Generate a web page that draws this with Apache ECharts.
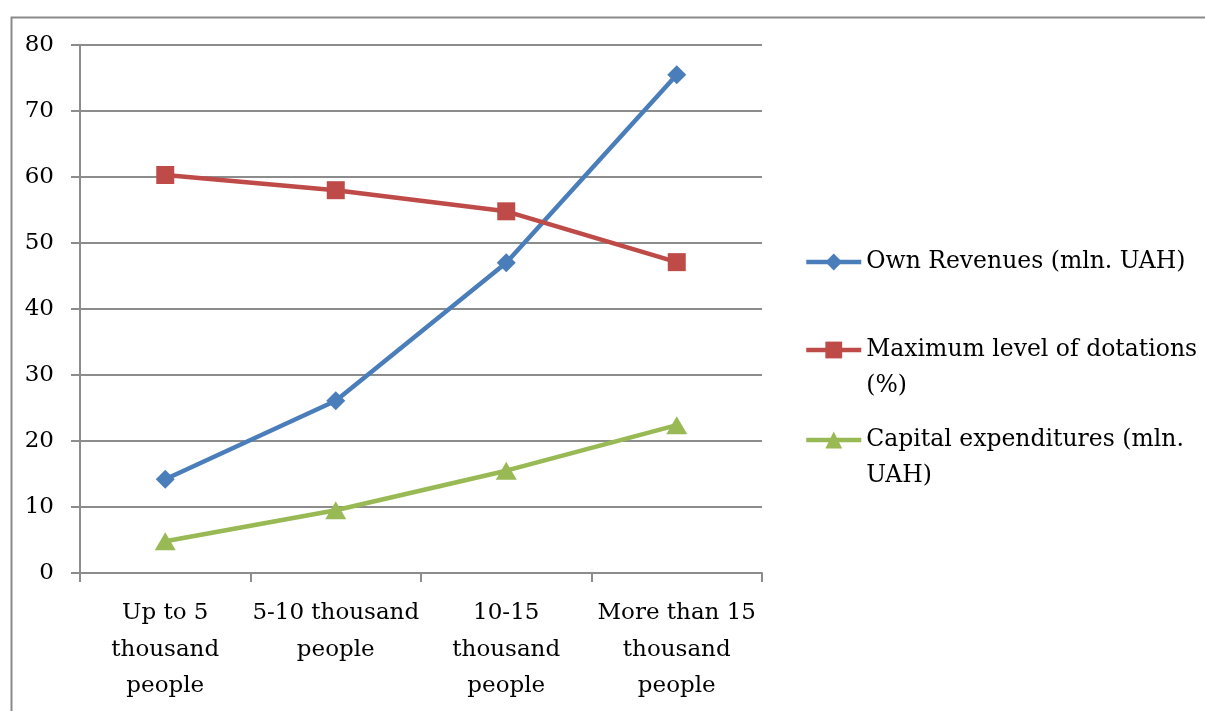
<!DOCTYPE html>
<html>
<head>
<meta charset="utf-8">
<style>
  html, body { margin: 0; padding: 0; background: #fff; }
  #chart { width: 1205px; height: 711px; }
</style>
<script src="https://cdn.jsdelivr.net/npm/echarts@6/dist/echarts.min.js"></script>
</head>
<body>
<div id="chart"></div>
<script>
const categories = [
  "Up to 5\nthousand\npeople",
  "5-10 thousand\npeople",
  "10-15\nthousand\npeople",
  "More than 15\nthousand\npeople"
];
const ownRevenues = [14.2, 26.1, 47.0, 75.5];
const dotations = [60.3, 58.0, 54.8, 47.1];
const capitalExp = [4.8, 9.5, 15.5, 22.4];
const seriesNames = [
  "Own Revenues (mln. UAH)",
  "Maximum level of dotations (%)",
  "Capital expenditures (mln. UAH)"
];
// a leading empty line keeps the first text line level with the icon
const legendLabels = [
  "Own Revenues (mln. UAH)",
  "\nMaximum level of dotations\n(%)",
  "\nCapital expenditures (mln.\nUAH)"
];

const font = "DejaVu Serif";
const axisGray = "#8c8c8c";
const myChart = echarts.init(document.getElementById("chart"));

function legendFor(i, top) {
  return {
    data: [seriesNames[i]],
    left: 804,
    top: top,
    padding: 0,
    itemWidth: 55,
    itemHeight: 21,
    lineStyle: { width: 4.5 },
    formatter() {
      return legendLabels[i];
    },
    textStyle: {
      fontFamily: font,
      fontSize: 23.5,
      color: "#000",
      lineHeight: 36
    }
  };
}

const option = {
  animation: false,
  backgroundColor: "#fff",
  textStyle: { fontFamily: font },
  graphic: [
    {
      type: "rect",
      left: 9,
      top: 15,
      shape: { width: 1300, height: 800 },
      style: { fill: "none", stroke: "#8a8a8a", lineWidth: 2 }
    }
  ],
  legend: [
    legendFor(0, 244),
    legendFor(1, 296),
    legendFor(2, 386)
  ],
  grid: {
    left: 80,
    right: 443,
    top: 45,
    bottom: 138
  },
  xAxis: {
    type: "category",
    data: categories,
    boundaryGap: true,
    axisLine: { lineStyle: { color: axisGray, width: 2 } },
    axisTick: { show: true, length: 9, lineStyle: { color: axisGray, width: 2 } },
    axisLabel: {
      interval: 0,
      margin: 22,
      fontFamily: font,
      fontSize: 23,
      lineHeight: 36.5,
      color: "#000",
      align: "center"
    }
  },
  yAxis: {
    type: "value",
    min: 0,
    max: 80,
    interval: 10,
    axisLine: { show: true, lineStyle: { color: axisGray, width: 2 } },
    axisTick: { show: true, length: 9, lineStyle: { color: axisGray, width: 2 } },
    splitLine: { show: true, lineStyle: { color: axisGray, width: 2 } },
    axisLabel: {
      margin: 26,
      fontFamily: font,
      fontSize: 23,
      color: "#000"
    }
  },
  series: [
    {
      name: seriesNames[0],
      type: "line",
      data: ownRevenues,
      symbol: "diamond",
      symbolSize: 19,
      lineStyle: { color: "#4a7ebb", width: 4.5 },
      itemStyle: { color: "#4a7ebb" }
    },
    {
      name: seriesNames[1],
      type: "line",
      data: dotations,
      symbol: "rect",
      symbolSize: 18,
      lineStyle: { color: "#be4b48", width: 4.5 },
      itemStyle: { color: "#be4b48" }
    },
    {
      name: seriesNames[2],
      type: "line",
      data: capitalExp,
      symbol: "triangle",
      symbolSize: [21, 18],
      lineStyle: { color: "#98b954", width: 4.5 },
      itemStyle: { color: "#98b954" }
    }
  ]
};

myChart.setOption(option);
</script>
</body>
</html>
